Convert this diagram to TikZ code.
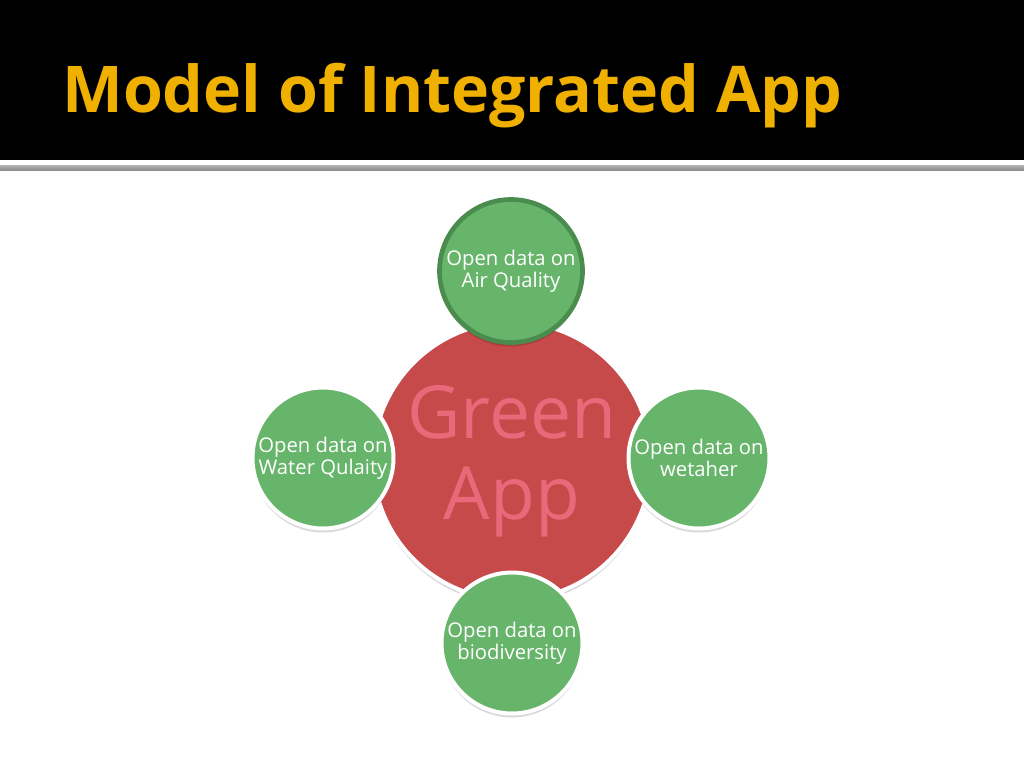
\documentclass[tikz,border=0pt]{standalone}
\usepackage{fontspec}
\setmainfont{Open Sans}
\usetikzlibrary{shadows}
\definecolor{titlegold}{HTML}{F0B000}
\definecolor{appred}{HTML}{C64A4A}
\definecolor{apptext}{HTML}{E9687A}
\definecolor{leafgreen}{HTML}{67B46B}
\definecolor{leafdark}{HTML}{4A8C4D}
\tikzset{
  px/.style={x=0.75pt,y=-0.75pt},
  leaf/.style={circle, fill=leafgreen, draw=white, line width=3pt, minimum size=141*0.75pt, inner sep=0pt,
    text=white, font=\fontsize{15.2pt}{16.5pt}\selectfont, align=center,
    drop shadow={shadow xshift=0pt, shadow yshift=-3pt, opacity=0.15, fill=black}},
  hub/.style={circle, fill=appred, draw=white, line width=3pt, minimum size=278*0.75pt, inner sep=0pt,
    text=apptext, font=\fontsize{55pt}{61pt}\selectfont, align=center,
    drop shadow={shadow xshift=0pt, shadow yshift=-3pt, opacity=0.15, fill=black}},
}
\begin{document}
\begin{tikzpicture}[px]
\useasboundingbox (0,0) rectangle (1024,768);
\fill[white] (0,0) rectangle (1024,768);
\fill[black] (0,0) rectangle (1024,160);
\shade[top color=gray!60, bottom color=gray!90] (0,165) rectangle (1024,170);
\node[anchor=base west, inner sep=0pt, text=titlegold, font=\bfseries\fontsize{49.5pt}{55pt}\selectfont] (title) at (62,112)
  {\resizebox{585pt}{!}{Model of Integrated App}};
\node[hub] (hub) at (512,461) {Green\\App};
\node[leaf] (left) at (323,458) {Open data on\\Water Qulaity};
\node[leaf] (right) at (699,458) {Open data on\\wetaher};
\node[leaf] (bottom) at (512,643) {Open data on\\biodiversity};
\node[leaf, draw=leafdark, line width=3.5pt, minimum size=143*0.75pt] (top) at (511,271) {Open data on\\Air Quality};
\end{tikzpicture}
\end{document}
